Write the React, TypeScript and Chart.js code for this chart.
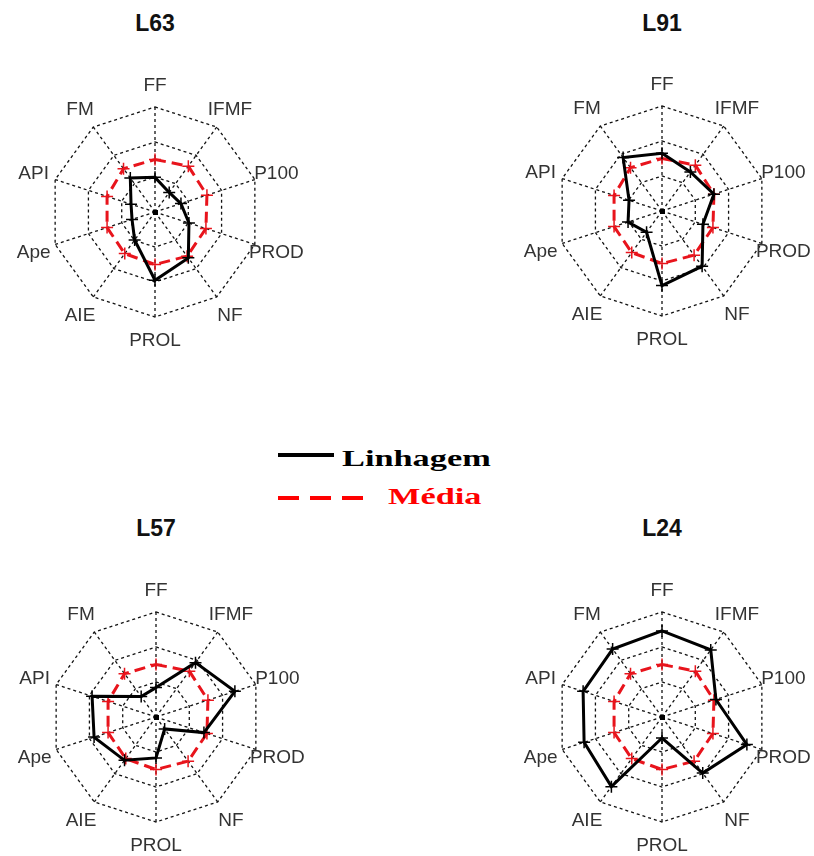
import React, { useEffect, useRef } from "react";
import { Chart, registerables } from "chart.js";

Chart.register(...registerables);

// ---- data ----
const axisLabels = ["FF", "IFMF", "P100", "PROD", "NF", "PROL", "AIE", "Ape", "API", "FM"];
const mediaValues = [0.50, 0.54, 0.52, 0.51, 0.52, 0.50, 0.49, 0.48, 0.48, 0.51];
const l63Values = [0.33, 0.23, 0.26, 0.34, 0.54, 0.65, 0.33, 0.23, 0.24, 0.40];
const l91Values = [0.55, 0.46, 0.52, 0.41, 0.65, 0.71, 0.25, 0.34, 0.33, 0.63];
const l57Values = [0.28, 0.64, 0.79, 0.48, 0.14, 0.39, 0.51, 0.62, 0.64, 0.24];
const l24Values = [0.82, 0.79, 0.54, 0.85, 0.66, 0.20, 0.82, 0.78, 0.79, 0.80];
const gridLevels = [0, 1 / 3, 2 / 3, 1];
const legendLabels = ["Linhagem", "Média"];

const RED = "#e8141c";
const CANVAS = 320;
const PAD = 55;

const decorPlugin = {
  id: "decor",
  beforeDatasetsDraw(chart: any) {
    const s = chart.scales.r;
    const ctx = chart.ctx;
    ctx.save();
    ctx.fillStyle = "#000";
    ctx.fillRect(s.xCenter - 2, s.yCenter - 2, 5, 5);
    ctx.restore();
  },
  afterDraw(chart: any) {
    const s = chart.scales.r;
    const ctx = chart.ctx;
    ctx.save();
    ctx.font = '19px "Liberation Sans", Arial, sans-serif';
    ctx.textAlign = "center";
    ctx.textBaseline = "middle";
    ctx.fillStyle = "#333";
    chart.data.labels.forEach((t: string, i: number) => {
      const p = s.getPointPosition(i, s.drawingArea * 1.215);
      ctx.fillText(t, p.x, p.y + 1);
    });
    ctx.restore();
  },
};

function RadarPanel({ values, cx, cy }: { values: number[]; cx: number; cy: number }) {
  const ref = useRef<HTMLCanvasElement | null>(null);
  useEffect(() => {
    if (!ref.current) return;
    const chart = new Chart(ref.current, {
      type: "radar",
      data: {
        labels: axisLabels,
        datasets: [
          {
            label: legendLabels[0],
            data: values,
            borderColor: "#000",
            borderWidth: 3,
            pointStyle: "cross",
            pointRadius: 6,
            pointBorderWidth: 1.5,
            pointBorderColor: "#000",
            pointBackgroundColor: "#000",
            fill: false,
            tension: 0,
          },
          {
            label: legendLabels[1],
            data: mediaValues,
            borderColor: RED,
            borderWidth: 3,
            borderDash: [11, 6],
            pointStyle: "cross",
            pointRadius: 6,
            pointBorderWidth: 1.5,
            pointBorderColor: RED,
            pointBackgroundColor: RED,
            fill: false,
            tension: 0,
          },
        ],
      } as any,
      options: {
        responsive: false,
        animation: false,
        events: [],
        layout: { padding: PAD },
        plugins: { legend: { display: false }, tooltip: { enabled: false } },
        scales: {
          r: {
            min: 0,
            max: 1,
            afterBuildTicks: (s: any) => {
              s.ticks = gridLevels.map((v) => ({ value: v }));
            },
            ticks: { display: false },
            pointLabels: { display: false },
            grid: { circular: false, color: "#111", lineWidth: 1.3 },
            border: { dash: [3, 3] },
            angleLines: { display: true, color: "#111", lineWidth: 1.3, borderDash: [3, 3] },
          },
        },
      } as any,
      plugins: [decorPlugin],
    });
    return () => chart.destroy();
  }, [values]);
  return (
    <canvas
      ref={ref}
      width={CANVAS}
      height={CANVAS}
      style={{ position: "absolute", left: cx - CANVAS / 2, top: cy - CANVAS / 2, width: CANVAS, height: CANVAS }}
    />
  );
}

const titleStyle: React.CSSProperties = {
  position: "absolute",
  width: 120,
  textAlign: "center",
  font: 'bold 23px "Liberation Sans", Arial, sans-serif',
  lineHeight: "23px",
  color: "#111",
};

const legendText: React.CSSProperties = {
  position: "absolute",
  font: 'bold 24px "Liberation Serif", "Times New Roman", serif',
  lineHeight: "24px",
  transform: "scaleX(1.43)",
  transformOrigin: "left top",
  whiteSpace: "nowrap",
};

export default function App() {
  const panels = [
    { name: "L63", values: l63Values, cx: 155, cy: 212, ty: 12 },
    { name: "L91", values: l91Values, cx: 662, cy: 211, ty: 12 },
    { name: "L57", values: l57Values, cx: 156, cy: 717, ty: 517 },
    { name: "L24", values: l24Values, cx: 662, cy: 717, ty: 517 },
  ];
  return (
    <div style={{ position: "absolute", left: 0, top: 0, width: 814, height: 856, overflow: "hidden", background: "#fff" }}>
      {panels.map((p) => (
        <React.Fragment key={p.name}>
          <RadarPanel values={p.values} cx={p.cx} cy={p.cy} />
          <div style={{ ...titleStyle, left: p.cx - 60, top: p.ty }}>{p.name}</div>
        </React.Fragment>
      ))}
      <div style={{ position: "absolute", left: 278, top: 453, width: 56, height: 4, background: "#000" }} />
      <div style={{ ...legendText, left: 342, top: 446, color: "#000" }}>{legendLabels[0]}</div>
      {[278, 310, 342].map((x) => (
        <div key={x} style={{ position: "absolute", left: x, top: 496, width: 21, height: 4, background: "#ff0000" }} />
      ))}
      <div style={{ ...legendText, left: 388, top: 484, color: "#ff0000" }}>{legendLabels[1]}</div>
    </div>
  );
}
